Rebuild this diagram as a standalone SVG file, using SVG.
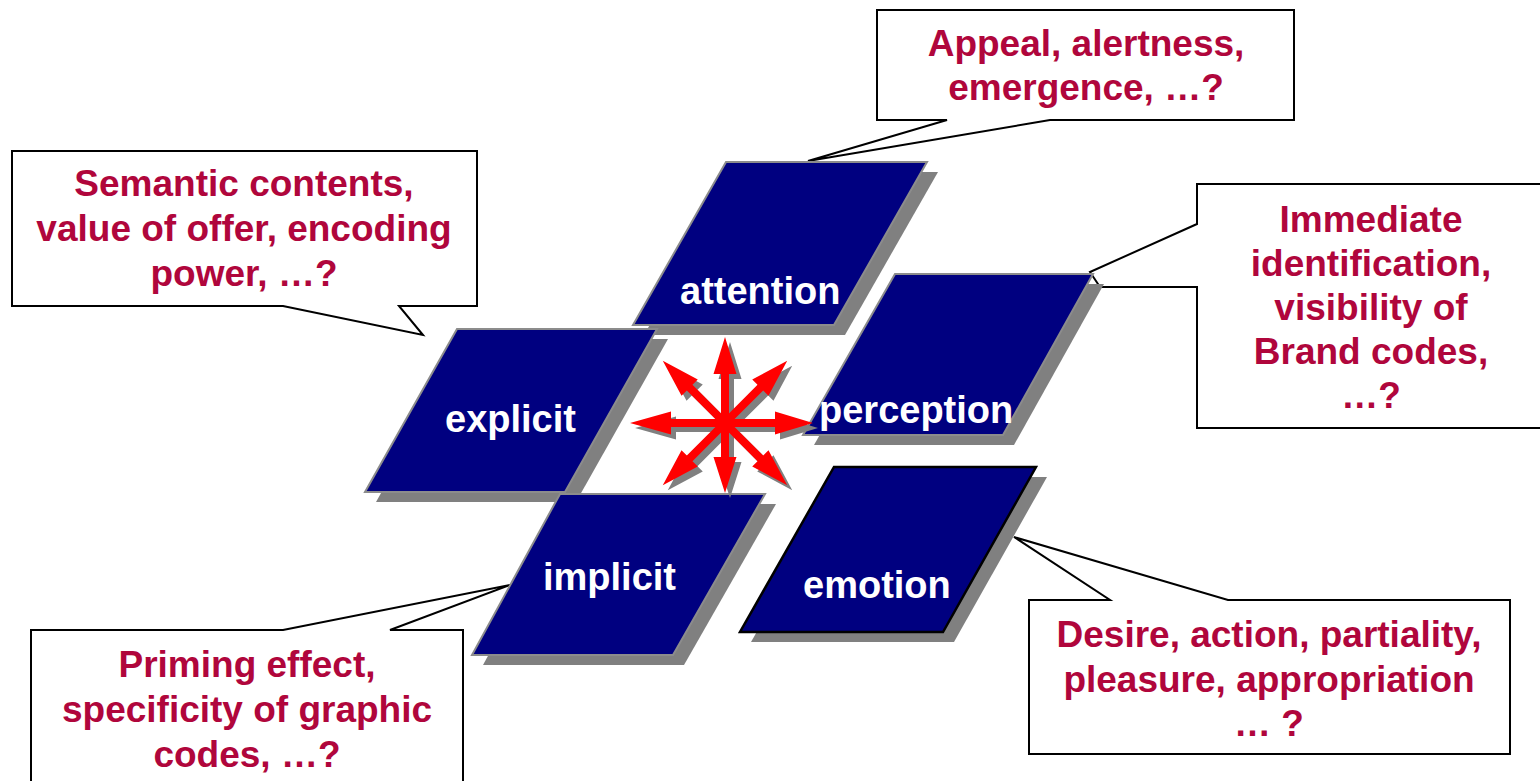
<svg xmlns="http://www.w3.org/2000/svg" width="1540" height="781" viewBox="0 0 1540 781">
<style>
.call{fill:#fff;stroke:#000;stroke-width:2;stroke-linejoin:miter}
.ct{font-family:"Liberation Sans",Arial,sans-serif;font-weight:bold;font-size:37px;fill:#B0063C;text-anchor:middle}
.sh{fill:#808080}
.pg{fill:#000080;stroke:#8c8c8c;stroke-width:2}
.pgb{fill:#000080;stroke:#000;stroke-width:2.5}
.nt{font-family:"Liberation Sans",Arial,sans-serif;font-weight:bold;font-size:38px;fill:#fff}
.ar{fill:#ff0000}
.as{fill:#808080}
</style>
<rect width="1540" height="781" fill="#fff"/>
<g id="callouts">
<g id="callout-attention">
<path class="call" d="M877,10 H1294 V120 H1050 L808,161 L947,120 H877 Z"/>
<text class="ct" x="1086" y="56">Appeal, alertness,</text>
<text class="ct" x="1086" y="100">emergence, …?</text>
</g>
<g id="callout-explicit">
<path class="call" d="M12,151 H477 V306 H399 L423,335 L283,306 H12 Z"/>
<text class="ct" x="244" y="196">Semantic contents,</text>
<text class="ct" x="244" y="241">value of offer, encoding</text>
<text class="ct" x="244" y="286">power, …?</text>
</g>
<g id="callout-perception">
<path class="call" d="M1197,184 H1541 V428 H1197 V287 H1100 L1090,272 L1197,224 Z"/>
<text class="ct" x="1371" y="232">Immediate</text>
<text class="ct" x="1371" y="276">identification,</text>
<text class="ct" x="1371" y="320">visibility of</text>
<text class="ct" x="1371" y="364">Brand codes,</text>
<text class="ct" x="1371" y="408">…?</text>
</g>
<g id="callout-implicit">
<path class="call" d="M31,630 H283 L510,585 L390,630 H463 V800 H31 Z"/>
<text class="ct" x="247" y="677">Priming effect,</text>
<text class="ct" x="247" y="722">specificity of graphic</text>
<text class="ct" x="247" y="767">codes, …?</text>
</g>
<g id="callout-emotion">
<path class="call" d="M1029,600 H1110 L1014,537 L1228,600 H1510 V754 H1029 Z"/>
<text class="ct" x="1269" y="647">Desire, action, partiality,</text>
<text class="ct" x="1269" y="692">pleasure, appropriation</text>
<text class="ct" x="1269" y="736">… ?</text>
</g>
</g>
<g id="node-attention">
<polygon class="sh" points="737,172 938,172 845,335 644,335"/>
<polygon class="pg" points="726,162 927,162 834,325 633,325"/>
<text class="nt" x="680" y="304">attention</text>
</g>
<g id="node-explicit">
<polygon class="sh" points="468,339 668,339 576,502 376,502"/>
<polygon class="pg" points="457,329 657,329 565,492 365,492"/>
<text class="nt" x="445" y="432">explicit</text>
</g>
<g id="node-perception">
<polygon class="sh" points="906,284 1104,284 1014,445 814,445"/>
<polygon class="pg" points="895,274 1093,274 1003,435 803,435"/>
<text class="nt" x="819" y="423">perception</text>
</g>
<g id="node-implicit">
<polygon class="sh" points="571,504 776,504 684,665 483,665"/>
<polygon class="pg" points="560,494 765,494 673,655 472,655"/>
<text class="nt" x="543" y="590">implicit</text>
</g>
<g id="node-emotion">
<polygon class="sh" points="845,477 1047,477 954,642 751,642"/>
<polygon class="pgb" points="834,467 1036,467 943,632 740,632"/>
<text class="nt" x="803" y="598">emotion</text>
</g>
<g id="connectors">
<defs>
<path id="a86" d="M-4,0 V-49 H-11.5 L0,-86 L11.5,-49 H4 V0 Z"/>
<path id="a70" d="M-4,0 V-34 H-11.5 L0,-70 L11.5,-34 H4 V0 Z"/>
<path id="a95" d="M-4,0 V-54 H-11.5 L0,-95 L11.5,-54 H4 V0 Z"/>
<path id="a88" d="M-4,0 V-50 H-11.5 L0,-88 L11.5,-50 H4 V0 Z"/>
</defs>
<g transform="translate(730,428)" class="as">
<use href="#a86"/>
<use href="#a70" transform="rotate(180)"/>
<use href="#a95" transform="rotate(-90)"/>
<use href="#a88" transform="rotate(90)"/>
<use href="#a88" transform="rotate(-45)"/>
<use href="#a88" transform="rotate(45)"/>
<use href="#a88" transform="rotate(-135)"/>
<use href="#a88" transform="rotate(135)"/>
</g>
<g transform="translate(725,423)" class="ar">
<use href="#a86"/>
<use href="#a70" transform="rotate(180)"/>
<use href="#a95" transform="rotate(-90)"/>
<use href="#a88" transform="rotate(90)"/>
<use href="#a88" transform="rotate(-45)"/>
<use href="#a88" transform="rotate(45)"/>
<use href="#a88" transform="rotate(-135)"/>
<use href="#a88" transform="rotate(135)"/>
</g>
</g>
</svg>
